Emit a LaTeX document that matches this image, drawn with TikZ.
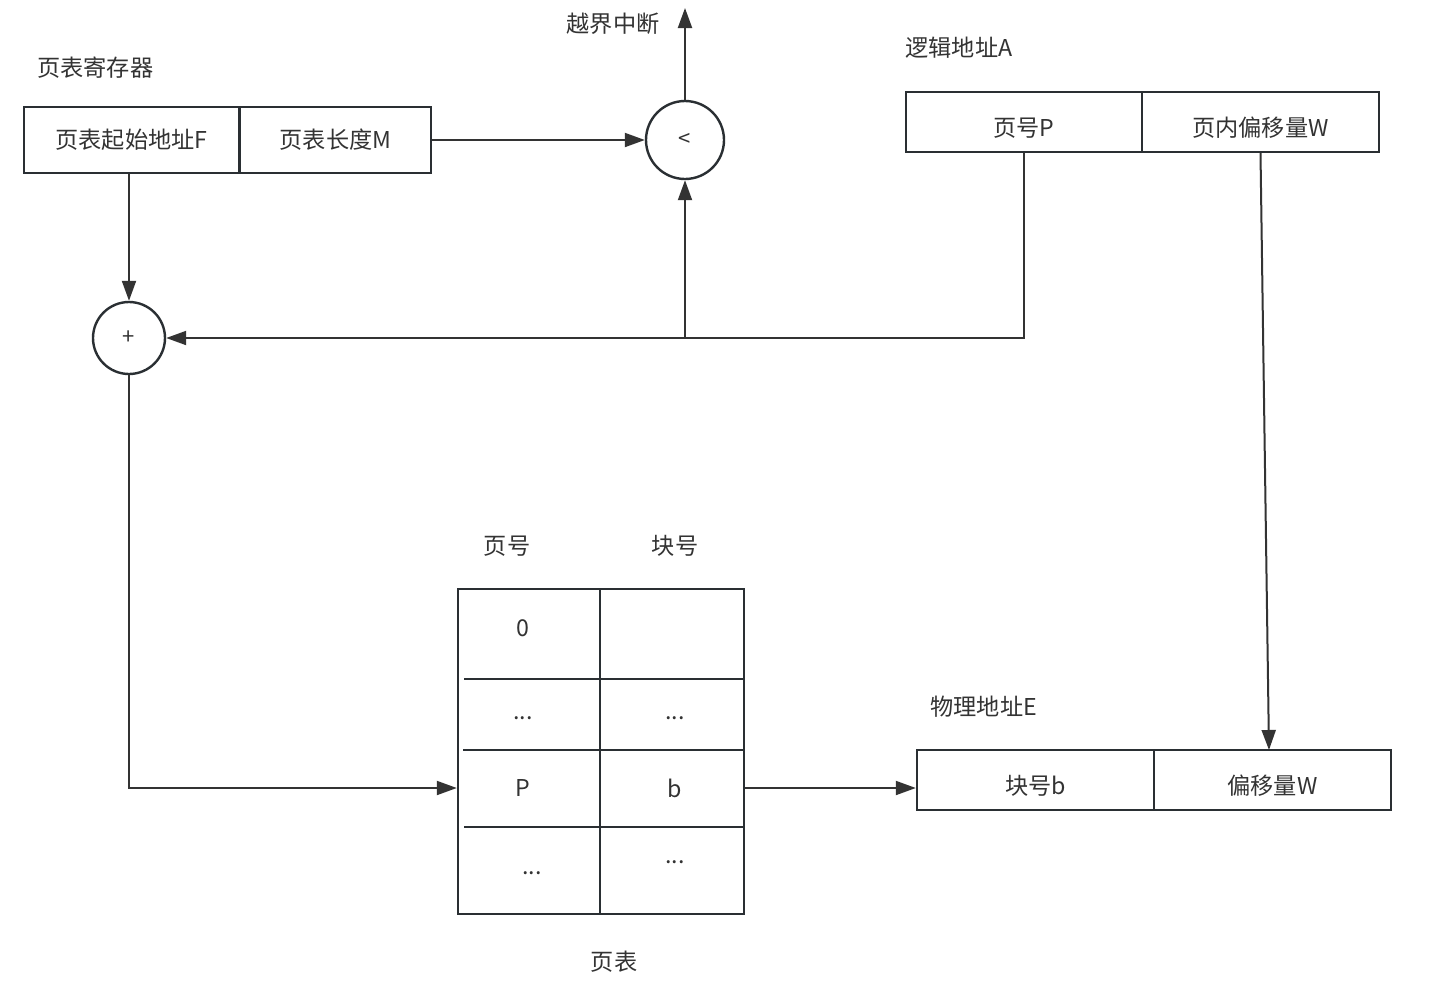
\documentclass[tikz,border=0pt]{standalone}
\usepackage{fontspec}
\setmainfont{Noto Sans CJK SC}
\usetikzlibrary{arrows.meta}
\definecolor{ln}{HTML}{333333}
\definecolor{bd}{HTML}{2A2F33}
\definecolor{tx}{HTML}{333333}
\tikzset{
  box/.style={draw=bd, line width=1.2pt, rectangle, inner sep=0pt, minimum height=30pt, text=tx, font=\fontsize{11.6}{13}\selectfont},
  op/.style={draw=bd, line width=1.2pt, circle, inner sep=0pt, text=tx, font=\fontsize{11}{12}\selectfont},
  lbl/.style={text=tx, inner sep=0pt, font=\fontsize{11.6}{13}\selectfont},
  cell/.style={text=tx, inner sep=0pt, font=\fontsize{11.6}{13}\selectfont},
  conn/.style={draw=ln, line width=1pt},
  arr/.style={conn, -{Triangle[length=10pt,width=7pt]}},
  grid/.style={draw=bd, line width=1.2pt},
  lowtext/.style={label={[lbl, yshift=-3pt]center:#1}}
}
\begin{document}
\begin{tikzpicture}[x=0.5pt, y=-0.5pt]
\useasboundingbox (0,0) rectangle (1431,991);
% page table register
\node[lbl, anchor=west] (regl) at (37,68) {页表寄存器};
\node[box, minimum width=107.5pt, minimum height=33pt] (ptF) at (131.5,140) {页表起始地址F\hspace{-3pt}};
\node[box, minimum width=95.5pt, minimum height=33pt] (ptM) at (335.5,140) {页表长度M};
% comparator
\node[op, minimum size=39pt] (cmp) at (685,140) {<};
\coordinate (intr) at (685,8);
\node[lbl] (intrl) at (613,24) {越界中断};
% logical address
\node[lbl, anchor=west] (lal) at (905,48) {逻辑地址A};
\node[box, minimum width=118pt, lowtext={页号P}] (laP) at (1024,122) {};
\node[box, minimum width=118.5pt, lowtext={页内偏移量W}] (laW) at (1260.5,122) {};
% adder
\node[op, minimum size=36pt] (add) at (129,338) {+};
\coordinate (j) at (685,338);
% page table
\node[lbl] (h1) at (507,546) {页号};
\node[lbl] (h2) at (675,546) {块号};
\node[lbl] (tl) at (614,962) {页表};
\node[grid, rectangle, minimum width=143pt, minimum height=162.5pt, inner sep=0pt] (tbl) at (601,751.5) {};
\draw[grid] (600,589) -- (600,914);
\draw[grid] (464,679) -- (744,679);
\draw[grid] (463,750) -- (744,750);
\draw[grid] (464,827) -- (744,827);
\node[cell] (c00) at (523,628) {0};
\node[cell] (c10) at (523,718) {...};
\node[cell] (c11) at (675,718) {...};
\node[cell] (cP) at (523,788) {P};
\node[cell] (cb) at (675,788) {b};
\node[cell] (c30) at (532,873) {...};
\node[cell] (c31) at (675,862) {...};
% physical address
\node[lbl, anchor=west] (pal) at (930,707) {物理地址E};
\node[box, minimum width=118.5pt, lowtext={块号b}] (paB) at (1035.5,780) {};
\node[box, minimum width=118.5pt, lowtext={偏移量W}] (paW) at (1272.5,780) {};
\coordinate (wIn) at (1269,750);
% connectors
\draw[arr] (ptM.east) -- (cmp.west);
\draw[arr] (cmp.north) -- (intr);
\draw[arr] (add.north |- ptF.south) -- (add.north);
\draw[arr] (laP.south) |- (add.east);
\draw[arr] (j) -- (cmp.south);
\draw[arr] (add.south) |- (tbl.west |- cP);
\draw[arr] (tbl.east |- cb) -- (paB.west |- cb);
\draw[arr] (laW.south) -- (wIn);
\end{tikzpicture}
\end{document}
